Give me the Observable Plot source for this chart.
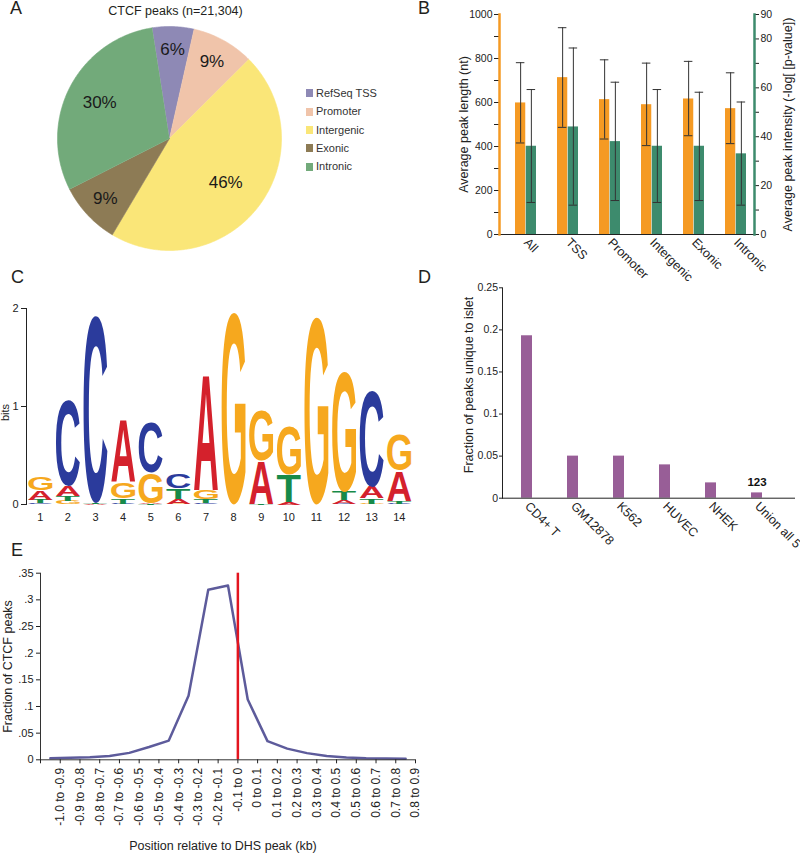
<!DOCTYPE html>
<html><head><meta charset="utf-8">
<script src="https://cdn.jsdelivr.net/npm/d3@7"></script>
<script src="https://cdn.jsdelivr.net/npm/@observablehq/plot@0.6"></script>
<style>
body{margin:0;background:#fff;font-family:"Liberation Sans",Arial,sans-serif;color:#231f20}
#fig{position:relative;width:800px;height:855px;overflow:hidden;background:#fff}
.panel{position:absolute}
.txt{position:absolute;line-height:1;white-space:nowrap}
.sw{position:absolute;width:7px;height:8px}
</style></head><body><div id="fig"></div>
<script>
// ---------- DATA ----------
// Panel A
const pieCats = ["RefSeq TSS", "Promoter", "Intergenic", "Exonic", "Intronic"];
const piePct = [6, 9, 46, 9, 30];
const pieColors = ["#8e89b5", "#f0c4aa", "#fae678", "#8d7b55", "#72aa7a"];
// Panel B
const bCats = ["All", "TSS", "Promoter", "Intergenic", "Exonic", "Intronic"];
const lenMean = [598, 713, 613, 590, 616, 572];
const lenLo = [416, 487, 434, 404, 449, 413];
const lenHi = [781, 940, 794, 779, 787, 735];
const intMean = [36.1, 44, 38, 36.1, 36.1, 33];
const intLo = [13.1, 12, 13.9, 13.1, 13.9, 12];
const intHi = [59.3, 76.3, 62.3, 59.3, 58.2, 54.2];
const lenTicks = [0, 100, 200, 300, 400, 500, 600, 700, 800, 900, 1000];
const intTicks = [0, 10, 20, 30, 40, 50, 60, 70, 80, 90];
// Panel C (sequence logo, bits per letter per position)
const logoPos = [1, 2, 3, 4, 5, 6, 7, 8, 9, 10, 11, 12, 13, 14];
const bitsA = [0.095, 0.10, 0.005, 0.63, 0.01, 0.05, 1.174, 0, 0.44, 0.027, 0, 0.034, 0.112, 0.31];
const bitsC = [0.015, 0.87, 1.91, 0.01, 0.51, 0.147, 0.017, 0, 0, 0, 0, 0.01, 0.987, 0.01];
const bitsG = [0.135, 0.035, 0.005, 0.16, 0.305, 0.01, 0.086, 1.96, 0.51, 0.49, 1.91, 1.224, 0.01, 0.36];
const bitsT = [0.035, 0.05, 0.005, 0.058, 0.005, 0.103, 0.043, 0, 0.01, 0.273, 0, 0.086, 0.058, 0.03];
const logoLetters = ["A", "C", "G", "T"];
const logoColors = ["#d4212c", "#2b3b9c", "#f6a81e", "#178a49"];
const bitsTicks = [0, 1, 2];
// Panel D
const dCats = ["CD4+ T", "GM12878", "K562", "HUVEC", "NHEK", "Union all 5"];
const dFrac = [0.193, 0.05, 0.05, 0.0396, 0.0182, 0.0063];
const dNotes = ["", "", "", "", "", "123"];
const dTicks = [0, 0.05, 0.1, 0.15, 0.2, 0.25];
// Panel E
const eBins = ["-1.0 to -0.9", "-0.9 to -0.8", "-0.8 to -0.7", "-0.7 to -0.6", "-0.6 to -0.5",
  "-0.5 to -0.4", "-0.4 to -0.3", "-0.3 to -0.2", "-0.2 to -0.1", "-0.1 to 0", "0 to 0.1",
  "0.1 to 0.2", "0.2 to 0.3", "0.3 to 0.4", "0.4 to 0.5", "0.5 to 0.6", "0.6 to 0.7",
  "0.7 to 0.8", "0.8 to 0.9"];
const eFrac = [0.003, 0.004, 0.005, 0.007, 0.013, 0.024, 0.036, 0.12, 0.319, 0.327, 0.113,
  0.035, 0.021, 0.0125, 0.007, 0.0045, 0.003, 0.0025, 0.002];
const eTicks = [0, 0.05, 0.1, 0.15, 0.2, 0.25, 0.3, 0.35];

// ---------- helpers ----------
const fig = document.getElementById("fig");
const FONT = "Liberation Sans, Arial, sans-serif";
const baseStyle = {fontFamily: FONT, fontSize: "11px", color: "#222", background: "transparent", overflow: "visible"};
function place(node, left, top) {
  const d = document.createElement("div");
  d.className = "panel"; d.style.left = left + "px"; d.style.top = top + "px";
  d.appendChild(node); fig.appendChild(d);
}
function addText(str, x, baseline, size, extra = {}) {
  const d = document.createElement("div");
  d.className = "txt"; d.textContent = str;
  d.style.fontSize = size + "px";
  d.style.left = x + "px";
  d.style.top = (baseline - 0.8465 * size) + "px";
  Object.assign(d.style, extra);
  fig.appendChild(d);
  return d;
}

// ---------- Panel A: pie ----------
const pieStart = -8.9 * Math.PI / 180;
const pieRows = pieCats.map((c, i) => ({cat: c, pct: piePct[i]}));
const arcs = d3.pie().sort(null).value(d => d.pct).startAngle(pieStart).endAngle(pieStart + 2 * Math.PI)(pieRows);
const wedgePts = arcs.flatMap(a => {
  const n = Math.ceil((a.endAngle - a.startAngle) / 0.01);
  const pts = [{cat: a.data.cat, px: 0, py: 0}];
  for (let k = 0; k <= n; k++) {
    const t = a.startAngle + (a.endAngle - a.startAngle) * k / n;
    pts.push({cat: a.data.cat, px: Math.sin(t), py: Math.cos(t)});
  }
  return pts;
});
const labelR = a => 0.82 - 0.004 * a.data.pct;
const midA = a => (a.startAngle + a.endAngle) / 2;
place(Plot.plot({
  width: 400, height: 270, style: baseStyle,
  x: {domain: [-1, 1], range: [57, 281], axis: null},
  y: {domain: [-1, 1], range: [250, 26], axis: null},
  color: {domain: pieCats, range: pieColors},
  marks: [
    Plot.line(wedgePts, {x: "px", y: "py", z: "cat", fill: "cat", stroke: "cat", strokeWidth: 0.6}),
    Plot.text(arcs, {x: a => labelR(a) * Math.sin(midA(a)), y: a => labelR(a) * Math.cos(midA(a)),
      text: a => a.data.pct + "%", fontSize: 17, fill: "#1a1a1a"})
  ]
}), 0, 0);
addText("CTCF peaks (n=21,304)", 0, 16, 12.5, {width: "351px", textAlign: "center"});
const legRowY = [93.3, 111.6, 129.9, 148.2, 166.5];
pieCats.forEach((c, i) => {
  const s = document.createElement("div");
  s.className = "sw"; s.style.left = "306px"; s.style.top = (legRowY[i] - 4) + "px";
  s.style.background = pieColors[i]; fig.appendChild(s);
  addText(c, 316, legRowY[i] + 4, 11, {color: "#333"});
});

// ---------- Panel B: grouped bars with dual axes ----------
const bOrange = "#f59a23", bGreen = "#3d8b6d";
const bScale = 1000 / 90;
const bRows = bCats.map((c, i) => ({cat: c, len: lenMean[i], lenLo: lenLo[i], lenHi: lenHi[i],
  int: intMean[i] * bScale, intLo: intLo[i] * bScale, intHi: intHi[i] * bScale}));
const bML = 99, bMR = 46, bW = 400, bPI = 0.5, bPO = 0.216;
const bStep = (bW - bML - bMR) / (bCats.length - bPI + 2 * bPO);
const bBw = bStep * (1 - bPI);
const cap = 4.5;
place(Plot.plot({
  width: bW, height: 290, marginLeft: bML, marginRight: bMR, marginTop: 14, marginBottom: 56,
  style: baseStyle,
  x: {domain: bCats, paddingInner: bPI, paddingOuter: bPO, align: 0.66},
  y: {domain: [0, 1000]},
  marks: [
    Plot.barY(bRows, {x: "cat", y: "len", fill: bOrange, insetRight: bBw / 2}),
    Plot.barY(bRows, {x: "cat", y: "int", fill: bGreen, insetLeft: bBw / 2}),
    Plot.ruleX(bRows, {x: "cat", y1: "lenLo", y2: "lenHi", dx: -bBw / 4, stroke: "#333", strokeWidth: 1}),
    Plot.ruleX(bRows, {x: "cat", y1: "intLo", y2: "intHi", dx: bBw / 4, stroke: "#333", strokeWidth: 1}),
    Plot.tickY(bRows, {x: "cat", y: "lenLo", insetLeft: bBw / 4 - cap, insetRight: 3 * bBw / 4 - cap, stroke: "#333"}),
    Plot.tickY(bRows, {x: "cat", y: "lenHi", insetLeft: bBw / 4 - cap, insetRight: 3 * bBw / 4 - cap, stroke: "#333"}),
    Plot.tickY(bRows, {x: "cat", y: "intLo", insetLeft: 3 * bBw / 4 - cap, insetRight: bBw / 4 - cap, stroke: "#333"}),
    Plot.tickY(bRows, {x: "cat", y: "intHi", insetLeft: 3 * bBw / 4 - cap, insetRight: bBw / 4 - cap, stroke: "#333"}),
    Plot.ruleY([0], {stroke: "#222"}),
    Plot.axisY({ticks: lenTicks, tickFormat: d => d % 200 ? "" : String(d), tickSize: 5, tickPadding: 2, fontSize: 10.5, label: null}),
    Plot.axisY({anchor: "right", ticks: intTicks.map(v => v * bScale),
      tickFormat: v => { const t = Math.round(v / bScale); return (t % 20 === 0 || t === 90) ? String(t) : ""; },
      tickSize: 4, tickPadding: 2, fontSize: 10.5, label: null}),
    Plot.frame({anchor: "left", stroke: bOrange, strokeWidth: 2.5}),
    Plot.frame({anchor: "right", stroke: bGreen, strokeWidth: 2.5}),
    Plot.axisX({tickRotate: 45, tickSize: 0, tickPadding: 6, fontSize: 12.5, label: null}),
    Plot.text(["Average peak length (nt)"], {text: d => d, frameAnchor: "left", textAnchor: "middle", dx: -36, rotate: -90, fontSize: 12.5}),
    Plot.text(["Average peak intensity (-log[ [p-value])"], {text: d => d, frameAnchor: "right", textAnchor: "middle", dx: 33, rotate: -90, fontSize: 12.5})
  ]
}), 400, 0);

// ---------- Panel C: sequence logo ----------
const bitsBy = {A: bitsA, C: bitsC, G: bitsG, T: bitsT};
const logoRows = logoPos.flatMap((p, i) => {
  const col = logoLetters.map(L => ({L, h: bitsBy[L][i]})).filter(d => d.h > 0).sort((a, b) => a.h - b.h);
  let acc = 0;
  return col.map(d => ({pos: p, letter: d.L, y0: acc, y1: (acc += d.h)}));
});
const letterFill = 0.87;
const measureCtx = document.createElement("canvas").getContext("2d");
measureCtx.font = "bold 100px 'Liberation Sans'";
place(Plot.plot({
  width: 415, height: 260, marginLeft: 26, marginRight: 2.4, marginTop: 38, marginBottom: 26,
  style: baseStyle,
  x: {domain: [0.5, 14.5]},
  y: {domain: [0, 2]},
  color: {domain: logoLetters, range: logoColors},
  marks: [
    Plot.text(logoRows, {x: "pos", y: "y0", text: "letter", fill: "letter", fontWeight: "bold",
      fontSize: 100, fontFamily: "Liberation Sans",
      render(index, scales, values, dims, ctx, next) {
        const g = next(index, scales, values, dims, ctx);
        const nodes = g.querySelectorAll("text");
        const colW = (scales.x(1.5) - scales.x(0.5)) * letterFill;
        index.forEach((i, k) => {
          const d = logoRows[i], node = nodes[k];
          if (!node) return;
          const m = measureCtx.measureText(d.letter);
          const L = m.actualBoundingBoxLeft, R = m.actualBoundingBoxRight;
          const A = m.actualBoundingBoxAscent, D = m.actualBoundingBoxDescent;
          const xc = scales.x(d.pos), yb = scales.y(d.y0), yt = scales.y(d.y1);
          const sx = colW / (L + R), sy = Math.max(0.0001, (yb - yt) / (A + D));
          node.setAttribute("transform", `translate(${xc},${yb}) scale(${sx},${sy})`);
          node.setAttribute("x", -(R - L) / 2);
          node.setAttribute("y", -D);
          node.removeAttribute("dy");
          node.setAttribute("text-anchor", "start");
        });
        return g;
      }}),
    Plot.axisY({ticks: bitsTicks, tickFormat: d => String(d), tickSize: 5, tickPadding: 3, fontSize: 11, label: null}),
    Plot.frame({anchor: "left", stroke: "#222"}),
    Plot.axisX({ticks: logoPos, tickFormat: d => String(d), tickSize: 0, tickPadding: 9, fontSize: 11, label: null}),
    Plot.text(["bits"], {text: d => d, frameAnchor: "left", textAnchor: "middle", dx: -21, dy: 6, rotate: -90, fontSize: 11})
  ]
}), 0, 270);

// ---------- Panel D: bars ----------
const dPurple = "#985e97";
const dRows = dCats.map((c, i) => ({cat: c, frac: dFrac[i], note: dNotes[i]}));
place(Plot.plot({
  width: 400, height: 290, marginLeft: 102, marginRight: 5, marginTop: 17.3, marginBottom: 62.3,
  style: baseStyle,
  x: {domain: dCats, paddingInner: 0.762, paddingOuter: 0.552, align: 0.363},
  y: {domain: [0, 0.25]},
  marks: [
    Plot.barY(dRows, {x: "cat", y: "frac", fill: dPurple}),
    Plot.text(dRows, {x: "cat", y: "frac", text: "note", dy: -11, fontWeight: "bold", fontSize: 11.5, fill: "#111"}),
    Plot.ruleY([0], {stroke: "#222"}),
    Plot.frame({anchor: "left", stroke: "#222"}),
    Plot.axisY({ticks: dTicks, tickFormat: d => String(+d.toFixed(2)), tickSize: 3, tickPadding: 1.5, fontSize: 10.5, label: null}),
    Plot.axisX({tickRotate: 45, tickSize: 0, tickPadding: 6, fontSize: 12.5, label: null}),
    Plot.text(["Fraction of peaks unique to islet"], {text: d => d, frameAnchor: "left", textAnchor: "middle", dx: -34, dy: -8, rotate: -90, fontSize: 12.5})
  ]
}), 400, 270);

// ---------- Panel E: line ----------
const eRows = eBins.map((b, i) => {
  const [lo, hi] = b.split(" to ").map(Number);
  return {bin: b, lo, hi, mid: (lo + hi) / 2, frac: eFrac[i]};
});
const eTickVals = [eRows[0].lo, ...eRows.map(d => d.hi)];
place(Plot.plot({
  width: 440, height: 325, marginLeft: 40, marginRight: 25, marginTop: 42.7, marginBottom: 95.7,
  style: baseStyle,
  x: {domain: [eRows[0].lo, eRows[eRows.length - 1].hi]},
  y: {domain: [0, 0.35]},
  marks: [
    Plot.line(eRows, {x: "mid", y: "frac", stroke: "#5d5b9b", strokeWidth: 2.5}),
    Plot.ruleX([0], {y1: 0, y2: 0.35, stroke: "#e3151f", strokeWidth: 2.5}),
    Plot.ruleY([0], {stroke: "#333"}),
    Plot.frame({anchor: "left", stroke: "#333"}),
    Plot.axisY({ticks: eTicks, tickFormat: d => d === 0 ? "0" : String(+d.toFixed(2)).replace(/^0/, ""),
      tickSize: 4, tickPadding: 3, fontSize: 11, label: null}),
    Plot.axisX({ticks: eTickVals, tickFormat: v => { const r = eRows.find(d => Math.abs(d.hi - v) < 1e-9); return r ? r.bin : ""; },
      tickRotate: -90, tickSize: 4, tickPadding: 4, fontSize: 12, label: null}),
    Plot.text(["Position relative to DHS peak (kb)"], {text: d => d, frameAnchor: "bottom", dx: -5, dy: 90, fontSize: 12.5}),
    Plot.text(["Fraction of CTCF peaks"], {text: d => d, frameAnchor: "left", textAnchor: "middle", dx: -33, rotate: -90, fontSize: 12.5})
  ]
}), 0, 530);

// ---------- Panel letters ----------
addText("A", 10, 14.5, 18);
addText("B", 418, 14.5, 18);
addText("C", 11, 283, 18);
addText("D", 418, 283, 18);
addText("E", 11, 556, 18);
</script>
</body></html>
